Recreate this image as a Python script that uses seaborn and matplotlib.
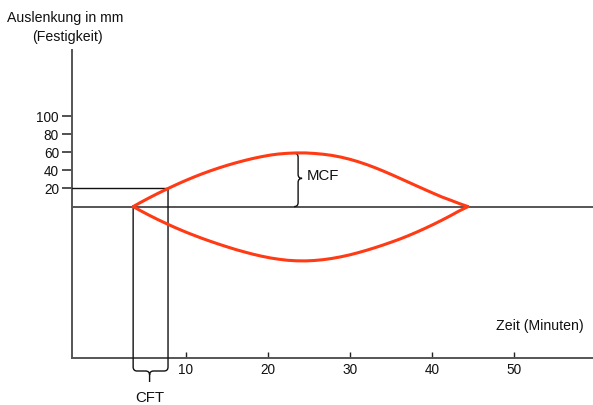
import matplotlib
matplotlib.use("Agg")
import matplotlib.pyplot as plt
from matplotlib.path import Path
from matplotlib.patches import PathPatch
import pandas as pd
import seaborn as sns

# Zeit (Minuten) und Auslenkung (mm) der Thromboelastogramm-Kurve
zeit = [3.6, 4.5, 5.5, 6.6, 7.85, 8.7, 9.5, 10.3, 11.1, 12.0, 13.0, 14.1,
        15.2, 16.2, 17.2, 18.2, 19.2, 20.3, 21.3, 22.4, 23.5, 24.6, 25.6,
        26.7, 27.8, 28.9, 30.0, 31.0, 32.1, 33.1, 34.1, 35.1, 36.1, 37.1,
        38.1, 39.2, 40.2, 41.2, 42.3, 43.3, 44.4]
oben = [0, 4.56, 9.42, 14.52, 20, 23.6, 26.9, 30.0, 33.0, 36.2, 39.5, 42.9,
        46.0, 48.6, 51.0, 53.2, 55.1, 56.9, 58.1, 58.9, 59.3, 59.3, 58.8,
        57.9, 56.6, 54.7, 52.3, 49.65, 46.3, 42.9, 39.2, 35.3, 31.25, 27.15,
        23.05, 18.6, 14.6, 10.7, 7.0, 3.5, 0]
unten = [0, -4.5, -9.3, -14.3, -19.6, -23.1, -26.2, -29.2, -32.0, -35.1,
         -38.3, -41.7, -44.9, -47.7, -50.2, -52.6, -54.7, -56.7, -58.1,
         -59.3, -59.9, -60.0, -59.6, -58.7, -57.3, -55.5, -53.3, -50.95,
         -48.1, -45.3, -42.3, -39.15, -35.85, -32.25, -28.4, -23.9, -19.6,
         -15.1, -9.9, -4.9, 0]

y_ticks = [20, 40, 60, 80, 100]
x_ticks = [10, 20, 30, 40, 50]
x_ticklabels = ["10", "20", "30", "40", "50"]

cft_start = 3.6     # Beginn der Gerinnung
cft_end = 7.85      # Auslenkung erreicht 20 mm
cft_level = 20
mcf_time = 23.7
mcf_value = 59

sns.set_theme(style="white")
plt.rcParams["font.family"] = ["Liberation Sans", "DejaVu Sans"]

W, H = 593, 405
fig = plt.figure(figsize=(W / 100, H / 100), dpi=100)
ax = fig.add_axes([0, 0, 1, 1])

# Skalen: Pixel je Minute / je mm
kx, ky = 8.207, 0.905
x0_px, y0_px = 103.6, 206.6
xlim = ((0 - x0_px) / kx, (W - x0_px) / kx)
ylim = ((y0_px - H) / ky, (y0_px - 0) / ky)
ax.set_xlim(*xlim)
ax.set_ylim(*ylim)

def dx(p):
    return p / kx

def dy(p):
    return p / ky

axis_x = (72 - x0_px) / kx
axis_y = (y0_px - 357.7) / ky
axis_top = (y0_px - 50) / ky

curve_color = "#FF3A14"
axis_color = "#555555"

df = pd.DataFrame({
    "Zeit": zeit + zeit,
    "Auslenkung": oben + unten,
    "Kurve": ["oben"] * len(zeit) + ["unten"] * len(zeit),
})
sns.lineplot(data=df, x="Zeit", y="Auslenkung", hue="Kurve",
             palette=[curve_color, curve_color], legend=False,
             linewidth=2.2, ax=ax, zorder=4)
ax.set_xlabel("")
ax.set_ylabel("")

# Achsen
for s in ("top", "right"):
    ax.spines[s].set_visible(False)
ax.spines["left"].set_position(("data", axis_x))
ax.spines["left"].set_bounds(axis_y, axis_top)
ax.spines["bottom"].set_position(("data", axis_y))
ax.spines["bottom"].set_bounds(axis_x, xlim[1])
for s in ("left", "bottom"):
    ax.spines[s].set_color(axis_color)
    ax.spines[s].set_linewidth(1.4)

ax.set_yticks(y_ticks)
ax.set_xticks(x_ticks)
ax.set_xticklabels(x_ticklabels)
ax.tick_params(axis="y", direction="out", length=7.2, width=1.1,
               color="#222222", pad=2.2, labelsize=9.8, labelcolor="#111111",
               left=True)
ax.tick_params(axis="x", direction="in", length=4.5, width=1.0,
               color="#222222", pad=3.8, labelsize=9.8, labelcolor="#111111",
               bottom=True)

# Nulllinie
ax.plot([axis_x, xlim[1]], [0, 0], color=axis_color, lw=1.4, zorder=2,
        solid_capstyle="butt")

# 20-mm-Linie bis zum CFT-Ende
ax.plot([axis_x, cft_end], [cft_level, cft_level], color="#111111",
        lw=1.0, zorder=3)

# CFT-Klammer
r = 4
y_br = (y0_px - 371) / ky
y_tip = (y0_px - 382) / ky
x_mid = (cft_start + cft_end) / 2 + dx(-1)
verts = [
    (cft_start, 0), (cft_start, y_br + dy(r)),
    (cft_start, y_br), (cft_start + dx(r), y_br),
    (x_mid - dx(r), y_br),
    (x_mid, y_br), (x_mid, y_br - dy(r)),
    (x_mid, y_tip),
    (x_mid, y_br - dy(r)),
    (x_mid, y_br), (x_mid + dx(r), y_br),
    (cft_end - dx(r), y_br),
    (cft_end, y_br), (cft_end, y_br + dy(r)),
    (cft_end, cft_level),
]
codes = [Path.MOVETO, Path.LINETO,
         Path.CURVE3, Path.CURVE3,
         Path.LINETO,
         Path.CURVE3, Path.CURVE3,
         Path.LINETO,
         Path.MOVETO,
         Path.CURVE3, Path.CURVE3,
         Path.LINETO,
         Path.CURVE3, Path.CURVE3,
         Path.LINETO]
ax.add_patch(PathPatch(Path(verts, codes), facecolor="none",
                       edgecolor="#111111", lw=1.0, clip_on=False, zorder=3))

# MCF-Klammer
ym = mcf_value / 2 - dy(-1.5)
xb = mcf_time
verts = [
    (xb - dx(r), mcf_value), (xb, mcf_value), (xb, mcf_value - dy(r)),
    (xb, ym + dy(r)),
    (xb, ym), (xb + dx(r), ym),
    (xb, ym), (xb, ym - dy(r)),
    (xb, dy(r)),
    (xb, 0), (xb - dx(r), 0),
]
codes = [Path.MOVETO, Path.CURVE3, Path.CURVE3,
         Path.LINETO,
         Path.CURVE3, Path.CURVE3,
         Path.CURVE3, Path.CURVE3,
         Path.LINETO,
         Path.CURVE3, Path.CURVE3]
ax.add_patch(PathPatch(Path(verts, codes), facecolor="none",
                       edgecolor="#111111", lw=1.0, zorder=3))

ax.text(xb + dx(8.5), mcf_value / 2 - dy(-3.5), "MCF", ha="left",
        va="center", fontsize=10.8, color="#111111")
ax.text(x_mid, (y0_px - 402) / ky, "CFT", ha="center", va="baseline",
        fontsize=10.8, color="#111111", clip_on=False)

# Achsenbeschriftungen
fig.text(65.5 / W, 1 - 22 / H, "Auslenkung in mm", ha="center",
         va="baseline", fontsize=10.2, color="#111111")
fig.text(67.5 / W, 1 - 41.5 / H, "(Festigkeit)", ha="center",
         va="baseline", fontsize=10.2, color="#111111")
fig.text(540 / W, 1 - 330 / H, "Zeit (Minuten)", ha="center",
         va="baseline", fontsize=10.2, color="#111111")

fig.savefig("out.png", dpi=100)
